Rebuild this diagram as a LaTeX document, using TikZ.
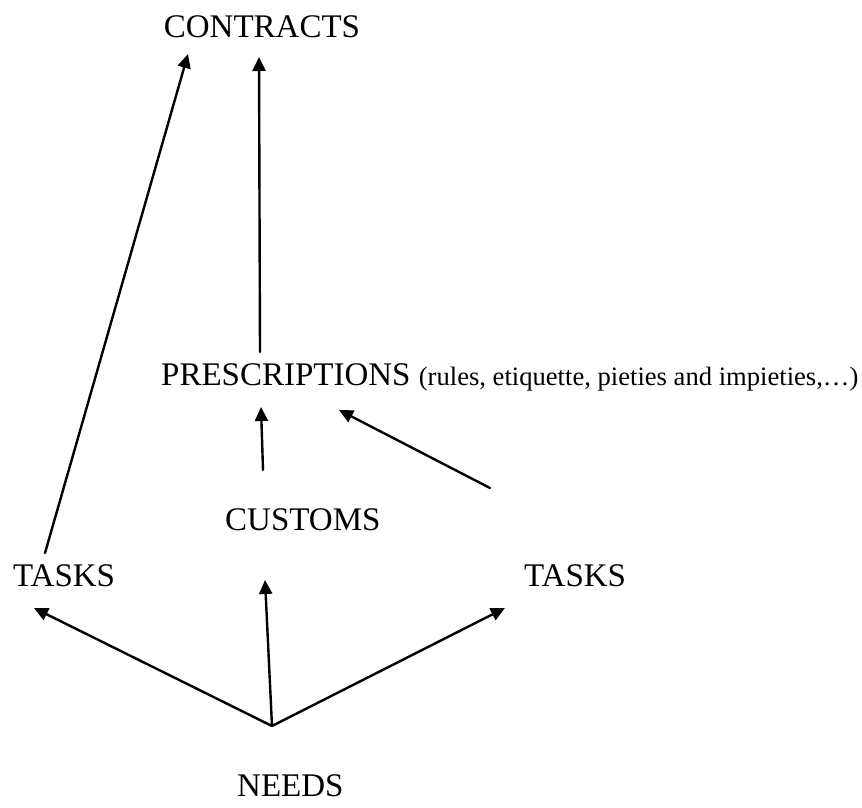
\documentclass[tikz,border=0pt]{standalone}
\usepackage{fontspec}
\setmainfont{Liberation Serif}
\usetikzlibrary{arrows.meta}
\tikzset{lbl/.style={inner sep=0pt,anchor=base west}}
\begin{document}
\begin{tikzpicture}[x=0.5pt,y=-0.5pt,line join=round,line cap=round,>={Triangle[length=7pt,width=6.5pt]},line width=1.2pt,font=\fontsize{16.5}{19}\selectfont]
            \useasboundingbox (0,0) rectangle (862,808);
            \node[lbl,anchor=base] (contracts) at (262,38) {CONTRACTS};
            \node[lbl] (prescr) at (160,385) {PRESCRIPTIONS {\fontsize{13.3}{16}\selectfont (rules, etiquette, pieties and impieties,…)}};
            \node[lbl] (customs) at (224,530) {CUSTOMS};
            \node[lbl] (tasksL) at (12,586) {TASKS};
            \node[lbl] (tasksR) at (523,586) {TASKS};
            \node[lbl] (needs) at (236,796) {NEEDS};
            \coordinate (hub) at ([shift={(36,-70)}]needs.base west);
            
            \draw[->] (hub)--([shift={(22,22)}]tasksL.base west);
            \draw[->] (hub)--([shift={(41,50)}]customs.base west);
            \draw[->] (hub)--([shift={(-18,22)}]tasksR.base west);
            
            \draw[->] ([shift={(39,-60)}]customs.base west)--([shift={(101,22)}]prescr.base west);
            \draw[->] ([shift={(-33,-98)}]tasksR.base west)--([shift={(179,25)}]prescr.base west);
            \draw[->] ([shift={(100,-33)}]prescr.base west)--([shift={(-3,19)}]contracts.base);
            \draw[->] ([shift={(33,-33)}]tasksL.base west)--([shift={(-74,16)}]contracts.base);
        \end{tikzpicture}
\end{document}
